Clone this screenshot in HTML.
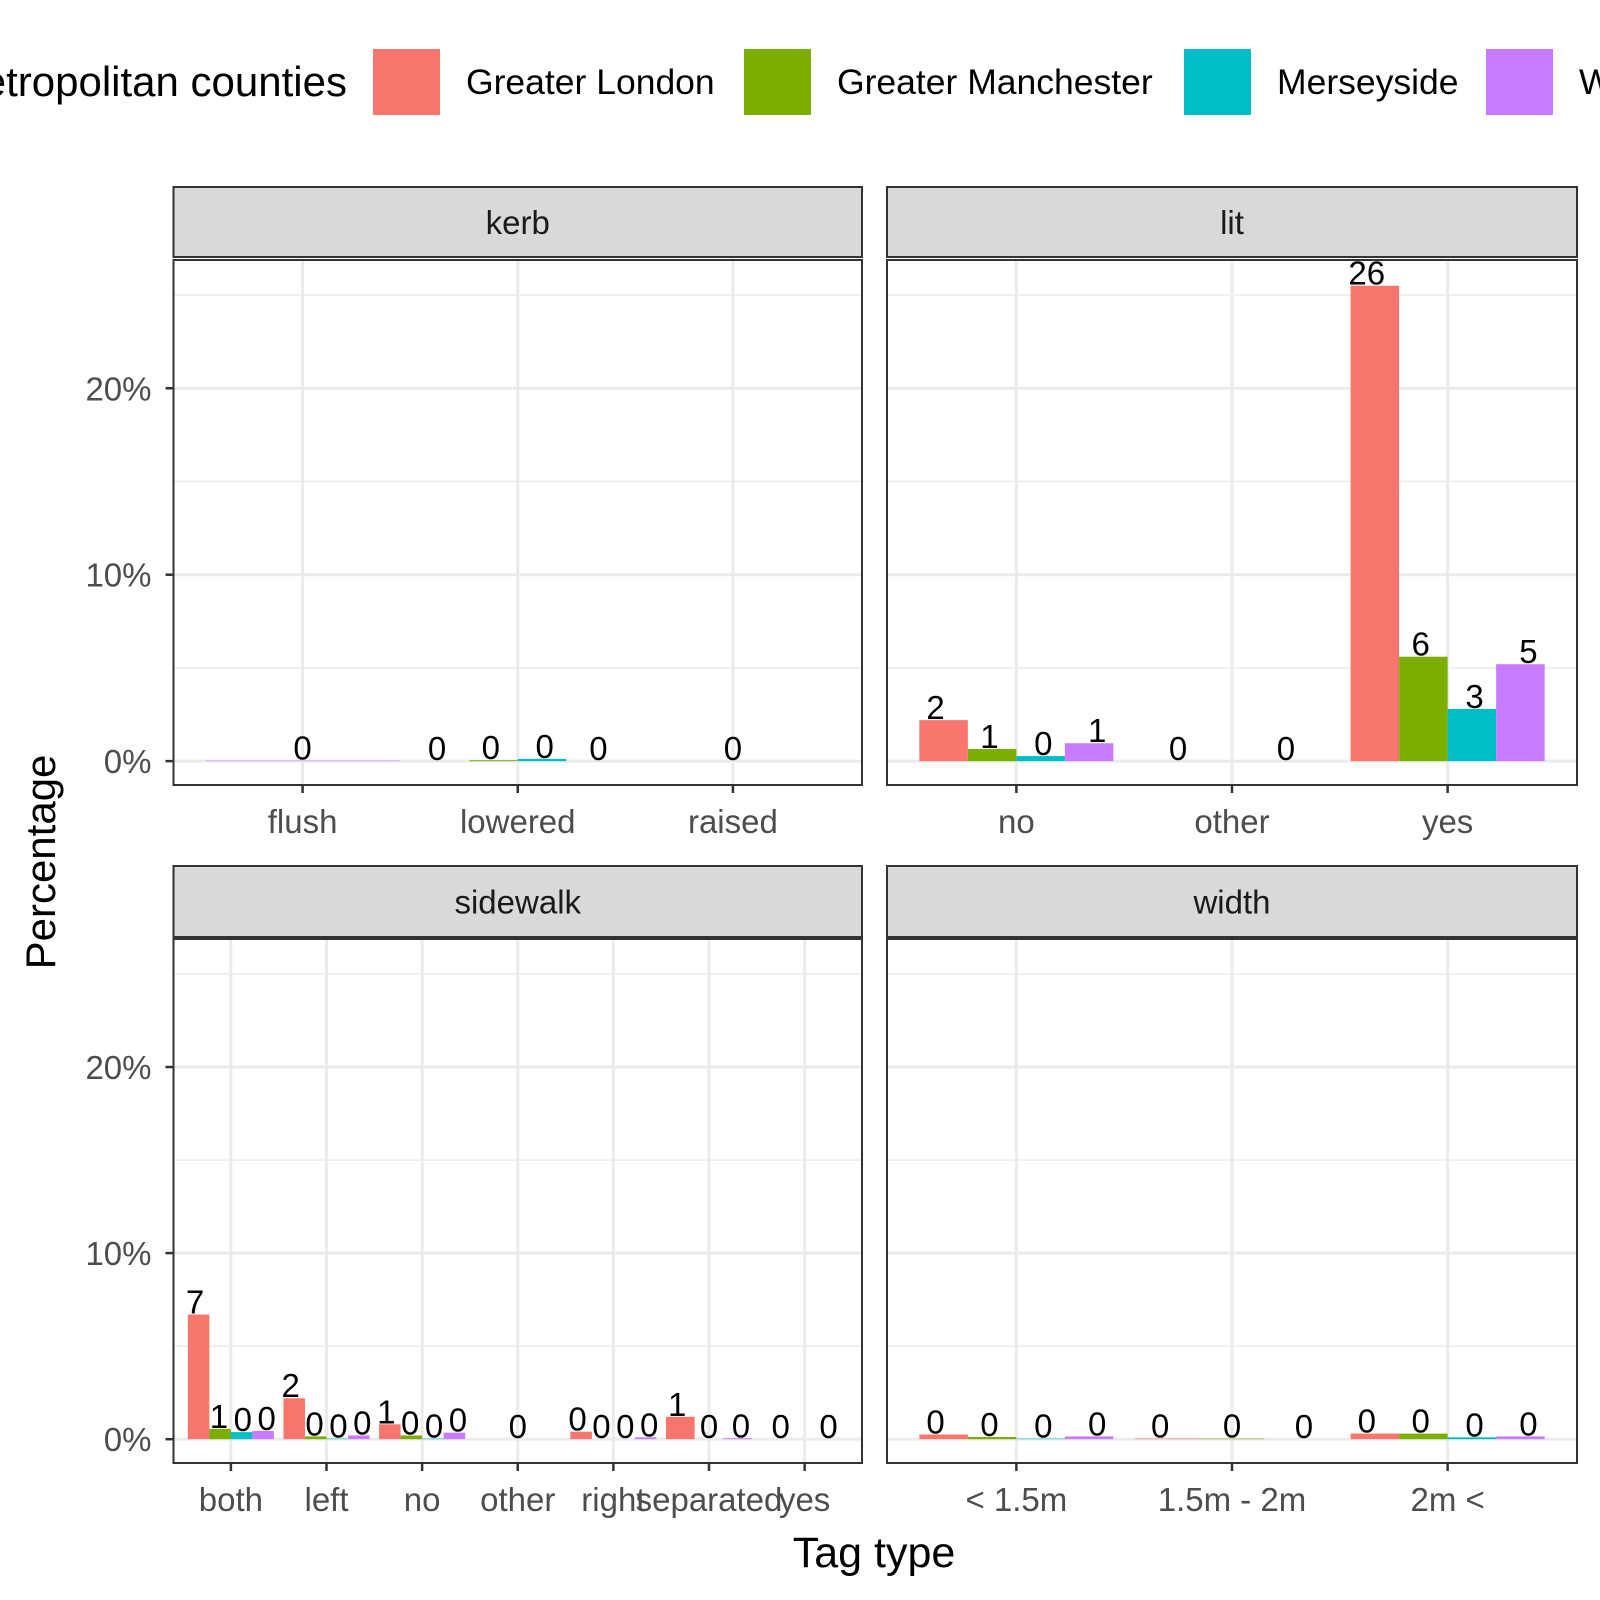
<!DOCTYPE html>
<html><head><meta charset="utf-8">
<style>html,body{margin:0;padding:0;background:#fff}svg{display:block}text{font-family:"Liberation Sans",Arial,sans-serif}</style>
</head><body>
<svg id="chart" width="1600" height="1600" viewBox="0 0 1600 1600" xmlns="http://www.w3.org/2000/svg">
<g>
<text x="347" y="96" font-size="42" text-anchor="end" fill="#000">Metropolitan counties</text>
<rect x="373" y="49" width="67" height="66" fill="#F8766D"/>
<text x="466" y="94" font-size="35.5" fill="#000">Greater London</text>
<rect x="744" y="49" width="67" height="66" fill="#7CAE00"/>
<text x="837" y="94" font-size="35.5" fill="#000">Greater Manchester</text>
<rect x="1184" y="49" width="67" height="66" fill="#00BFC4"/>
<text x="1277" y="94" font-size="35.5" fill="#000">Merseyside</text>
<rect x="1486" y="49" width="67" height="66" fill="#C77CFF"/>
<text x="1579" y="94" font-size="35.5" fill="#000">West Midlands</text>
</g>
<text transform="translate(55,862) rotate(-90)" font-size="42" text-anchor="middle" fill="#000">Percentage</text>
<text x="874" y="1567" font-size="43" text-anchor="middle" fill="#000">Tag type</text>
</svg>
<script>
const colors = ["#F8766D","#7CAE00","#00BFC4","#C77CFF"];
const facets = ["kerb","lit","sidewalk","width"];
const kerbCats = ["flush","lowered","raised"];
const kerbGroups = [[3],[0,1,2,3],[0]];
const kerbVals = [[0.03],[0,0.05,0.12,0],[0]];
const litCats = ["no","other","yes"];
const litGroups = [[0,1,2,3],[0,1],[0,1,2,3]];
const litVals = [[2.2,0.65,0.27,0.96],[0,0],[25.5,5.6,2.8,5.2]];
const sideCats = ["both","left","no","other","right","separated","yes"];
const sideGroups = [[0,1,2,3],[0,1,2,3],[0,1,2,3],[0],[0,1,2,3],[0,1,3],[0,3]];
const sideVals = [[6.7,0.55,0.38,0.44],[2.2,0.15,0.03,0.2],[0.8,0.2,0.03,0.35],[0],[0.4,0,0,0.1],[1.2,0,0.05],[0,0]];
const widthCats = ["< 1.5m","1.5m - 2m","2m <"];
const widthGroups = [[0,1,2,3],[0,1,2],[0,1,2,3]];
const widthVals = [[0.25,0.12,0.03,0.15],[0.03,0.03,0],[0.3,0.3,0.1,0.15]];
const yTicks = [0,10,20];
const yTickLabels = ["0%","10%","20%"];

const NS="http://www.w3.org/2000/svg";
const svg=document.getElementById('chart');
function mk(tag,attrs,parent){const e=document.createElementNS(NS,tag);for(const k in attrs)e.setAttribute(k,attrs[k]);(parent||svg).appendChild(e);return e;}
const yMin=-1.28, yMax=26.88;
const panels=[
 {name:facets[0],cats:kerbCats,groups:kerbGroups,vals:kerbVals,x0:173.5,x1:862,st:187,sb:257,pt:260,pb:785},
 {name:facets[1],cats:litCats,groups:litGroups,vals:litVals,x0:887,x1:1577,st:187,sb:257,pt:260,pb:785},
 {name:facets[2],cats:sideCats,groups:sideGroups,vals:sideVals,x0:173.5,x1:862,st:866,sb:937,pt:939,pb:1463},
 {name:facets[3],cats:widthCats,groups:widthGroups,vals:widthVals,x0:887,x1:1577,st:866,sb:937,pt:939,pb:1463}
];
panels.forEach((p,pi)=>{
  const g=mk('g',{});
  
  
  const n=p.cats.length, unit=(p.x1-p.x0)/(n+0.2);
  const xs=u=>p.x0+(u+0.6)*unit;
  const ys=v=>p.pb-(v-yMin)/(yMax-yMin)*(p.pb-p.pt);
  [5,15,25].forEach(v=>{const l=mk('line',{x1:p.x0,x2:p.x1,y1:ys(v),y2:ys(v),stroke:'#EBEBEB','stroke-width':1.5},g);
    });
  yTicks.forEach((v,i)=>{const l=mk('line',{x1:p.x0,x2:p.x1,y1:ys(v),y2:ys(v),stroke:'#EBEBEB','stroke-width':3},g);
    
    if(p.x0<500){
      const t=mk('line',{x1:p.x0-8,x2:p.x0,y1:ys(v),y2:ys(v),stroke:'#333','stroke-width':2.5},g);
      
      const tl=mk('text',{x:p.x0-22,y:ys(v)+12,'font-size':33,'text-anchor':'end',fill:'#4D4D4D'},g);
      tl.textContent=yTickLabels[i];
      
    }});
  p.cats.forEach((c,ci)=>{const l=mk('line',{x1:xs(ci),x2:xs(ci),y1:p.pt,y2:p.pb,stroke:'#EBEBEB','stroke-width':3},g);
    });
  p.cats.forEach((c,ci)=>{
    const gr=p.groups[ci], vs=p.vals[ci], k=gr.length, bw=0.9/k*unit;
    gr.forEach((grp,j)=>{
      const cx=xs(ci)+(-0.45+0.9*(j+0.5)/k)*unit;
      const v=vs[j], top=ys(Math.max(v,0)), base=ys(0);
      const r=mk('rect',{x:cx-bw/2,y:top,width:bw,height:Math.max(base-top,0),fill:colors[grp]},g);
      
      
      const tx=xs(ci)+(-0.5+(j+0.5)/k)*unit;
      const t=mk('text',{x:tx,y:top-1,'font-size':33,'text-anchor':'middle',fill:'#000'},g);
      t.textContent=String(Math.round(v));
      
    });
    const tk=mk('line',{x1:xs(ci),x2:xs(ci),y1:p.pb,y2:p.pb+8,stroke:'#333','stroke-width':2.5},g);
    
    const tl=mk('text',{x:xs(ci),y:p.pb+48,'font-size':33,'text-anchor':'middle',fill:'#4D4D4D'},g);
    tl.textContent=c;
    
  });
  const b=mk('rect',{x:p.x0,y:p.pt,width:p.x1-p.x0,height:p.pb-p.pt,fill:'none',stroke:'#333','stroke-width':2},g);
  
  const s=mk('rect',{x:p.x0,y:p.st,width:p.x1-p.x0,height:p.sb-p.st,fill:'#D9D9D9',stroke:'#333','stroke-width':2},g);
  
  const st=mk('text',{x:(p.x0+p.x1)/2,y:(p.st+p.sb)/2+12,'font-size':33,'text-anchor':'middle',fill:'#1A1A1A'},g);
  st.textContent=p.name;
  
});
</script>
</body></html>
